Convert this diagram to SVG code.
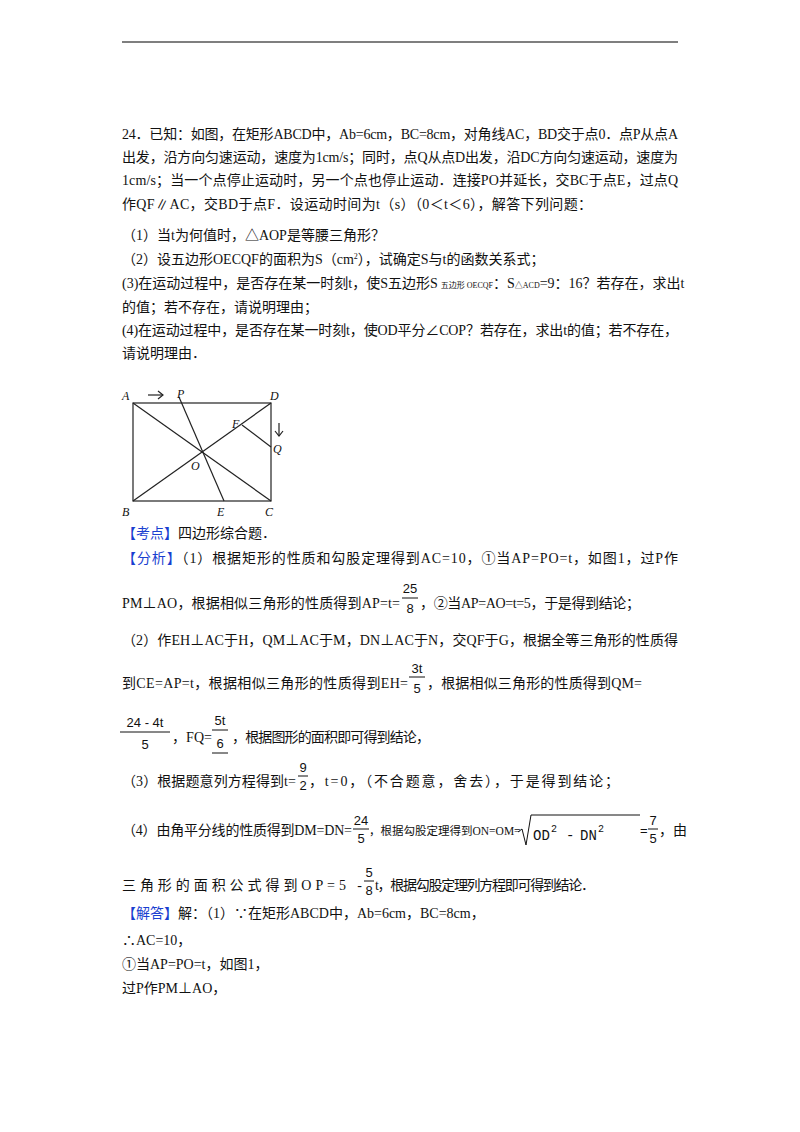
<svg xmlns="http://www.w3.org/2000/svg" width="800" height="1132" viewBox="0 0 800 1132">
<style>
text{font-family:"Liberation Serif","Noto Sans CJK SC",serif;font-size:14px;fill:#111}
.b{fill:#1a3fd0}
.s{font-size:8px}
.m{font-family:"Liberation Sans","Noto Sans CJK SC",sans-serif;font-size:13px}
.k{font-family:"Liberation Mono",monospace;font-size:14px}
.l{font-family:"Liberation Serif",serif;font-style:italic;font-size:12px}
.g{stroke:#222;stroke-width:1.2;fill:none}
</style>
<rect width="800" height="1132" fill="#fff"/>
<line x1="122" y1="42" x2="678" y2="42" stroke="#000" stroke-width="1.2"/>
<g id="question">
<text x="122" y="139" textLength="556" lengthAdjust="spacing">24．已知：如图，在矩形ABCD中，Ab=6cm，BC=8cm，对角线AC，BD交于点0．点P从点A</text>
<text x="122" y="162" textLength="556" lengthAdjust="spacing">出发，沿方向匀速运动，速度为1cm/s；同时，点Q从点D出发，沿DC方向匀速运动，速度为</text>
<text x="122" y="185" textLength="556" lengthAdjust="spacing">1cm/s；当一个点停止运动时，另一个点也停止运动．连接PO并延长，交BC于点E，过点Q</text>
<text x="122" y="209" textLength="470" lengthAdjust="spacing">作QF∥AC，交BD于点F．设运动时间为t（s）（0＜t＜6），解答下列问题：</text>
<text x="122" y="240">（1）当t为何值时，△AOP是等腰三角形？</text>
<text x="122" y="264">（2）设五边形OECQF的面积为S（cm<tspan class="s" dy="-5">2</tspan><tspan dy="5">），试确定S与t的函数关系式；</tspan></text>
<text x="122" y="288">(3)在运动过程中，是否存在某一时刻t，使S五边形S<tspan class="s" dx="3">五边形 OECQF</tspan>：S<tspan class="s">△ACD</tspan>=9：16？若存在，求出t</text>
<text x="122" y="312">的值；若不存在，请说明理由；</text>
<text x="122" y="335" textLength="556" lengthAdjust="spacing">(4)在运动过程中，是否存在某一时刻t，使OD平分∠COP？若存在，求出t的值；若不存在，</text>
<text x="122" y="358">请说明理由．</text>
</g>
<g id="figure">
<rect x="133" y="403" width="138" height="98" class="g"/>
<line x1="133" y1="403" x2="271" y2="501" class="g"/>
<line x1="133" y1="501" x2="271" y2="403" class="g"/>
<line x1="179" y1="397" x2="224" y2="501" class="g"/>
<line x1="242" y1="425" x2="271" y2="447" class="g"/>
<line x1="148" y1="395" x2="163" y2="395" class="g"/>
<path d="M158,391 L163,395 L158,399" class="g"/>
<line x1="279" y1="423" x2="279" y2="436" class="g"/>
<path d="M275,431 L279,436 L283,431" class="g"/>
<text class="l" x="122" y="400">A</text>
<text class="l" x="177" y="398">P</text>
<text class="l" x="270" y="400">D</text>
<text class="l" x="232" y="428">F</text>
<text class="l" x="273" y="453">Q</text>
<text class="l" x="191" y="470">O</text>
<text class="l" x="122" y="516">B</text>
<text class="l" x="217" y="516">E</text>
<text class="l" x="265" y="516">C</text>
</g>
<g id="analysis">
<text x="122" y="538"><tspan class="b">【考点】</tspan>四边形综合题．</text>
<text x="122" y="563" textLength="556" lengthAdjust="spacing"><tspan class="b">【分析】</tspan>（1）根据矩形的性质和勾股定理得到AC=10，①当AP=PO=t，如图1，过P作</text>
<text x="122" y="608" textLength="278" lengthAdjust="spacing">PM⊥AO，根据相似三角形的性质得到AP=t=</text>
<text class="m" x="410" y="593" text-anchor="middle">25</text><line x1="402" y1="598" x2="418" y2="598" stroke="#111"/><text class="m" x="410" y="613" text-anchor="middle">8</text>
<text x="420" y="608" textLength="220" lengthAdjust="spacing">，②当AP=AO=t=5，于是得到结论；</text>
<text x="122" y="645" textLength="556" lengthAdjust="spacing">（2）作EH⊥AC于H，QM⊥AC于M，DN⊥AC于N，交QF于G，根据全等三角形的性质得</text>
<text x="122" y="688" textLength="286" lengthAdjust="spacing">到CE=AP=t，根据相似三角形的性质得到EH=</text>
<text class="m" x="417" y="673" text-anchor="middle">3t</text><line x1="409" y1="677" x2="425" y2="677" stroke="#111"/><text class="m" x="417" y="693" text-anchor="middle">5</text>
<text x="427" y="688" textLength="215" lengthAdjust="spacing">，根据相似三角形的性质得到QM=</text>
<text class="m" x="145" y="727" text-anchor="middle">24 - 4t</text><line x1="120" y1="732" x2="170" y2="732" stroke="#111"/><text class="m" x="145" y="749" text-anchor="middle">5</text>
<text x="172" y="742" textLength="40" lengthAdjust="spacing">，FQ=</text>
<text class="m" x="220" y="725" text-anchor="middle">5t</text><line x1="212" y1="730" x2="228" y2="730" stroke="#111"/><text class="m" x="220" y="748" text-anchor="middle">6</text><line x1="212" y1="753" x2="228" y2="753" stroke="#111"/>
<text x="232" y="742" textLength="198" lengthAdjust="spacing">，根据图形的面积即可得到结论，</text>
<text x="122" y="786" textLength="174" lengthAdjust="spacing">（3）根据题意列方程得到t=</text>
<text class="m" x="303" y="772" text-anchor="middle">9</text><line x1="298" y1="776" x2="308" y2="776" stroke="#111"/><text class="m" x="303" y="790" text-anchor="middle">2</text>
<text x="309" y="786" textLength="310" lengthAdjust="spacing">，t=0，（不合题意，舍去），于是得到结论；</text>
<text x="122" y="835" textLength="230" lengthAdjust="spacing">（4）由角平分线的性质得到DM=DN=</text>
<text class="m" x="361" y="825" text-anchor="middle">24</text><line x1="353" y1="829" x2="369" y2="829" stroke="#111"/><text class="m" x="361" y="843" text-anchor="middle">5</text>
<text x="369" y="835" style="font-size:11.5px">，根据勾股定理得到ON=OM=</text>
<path d="M518,832 L522,829 L526,845 L531,815 L640,815" fill="none" stroke="#111" stroke-width="1"/>
<text class="k" x="533" y="840">OD</text>
<text class="k" x="551" y="832" style="font-size:10px">2</text>
<text class="k" x="566" y="840">-</text>
<text class="k" x="580" y="840">DN</text>
<text class="k" x="598" y="832" style="font-size:10px">2</text>
<text class="m" x="640" y="835">=</text>
<text class="m" x="653" y="825" text-anchor="middle">7</text><line x1="648" y1="829" x2="658" y2="829" stroke="#111"/><text class="m" x="653" y="843" text-anchor="middle">5</text>
<text x="659" y="835">，由</text>
<text x="122" y="890" textLength="240" lengthAdjust="spacing">三角形的面积公式得到OP=5 - </text>
<text class="m" x="369" y="877" text-anchor="middle">5</text><line x1="364" y1="881" x2="374" y2="881" stroke="#111"/><text class="m" x="369" y="895" text-anchor="middle">8</text>
<text x="375" y="890" textLength="220" lengthAdjust="spacing">t，根据勾股定理列方程即可得到结论．</text>
</g>
<g id="solution">
<text x="122" y="918"><tspan class="b">【解答】</tspan>解：（1）∵在矩形ABCD中，Ab=6cm，BC=8cm，</text>
<text x="122" y="945">∴AC=10，</text>
<text x="122" y="969">①当AP=PO=t，如图1，</text>
<text x="122" y="993">过P作PM⊥AO，</text>
</g>
</svg>
